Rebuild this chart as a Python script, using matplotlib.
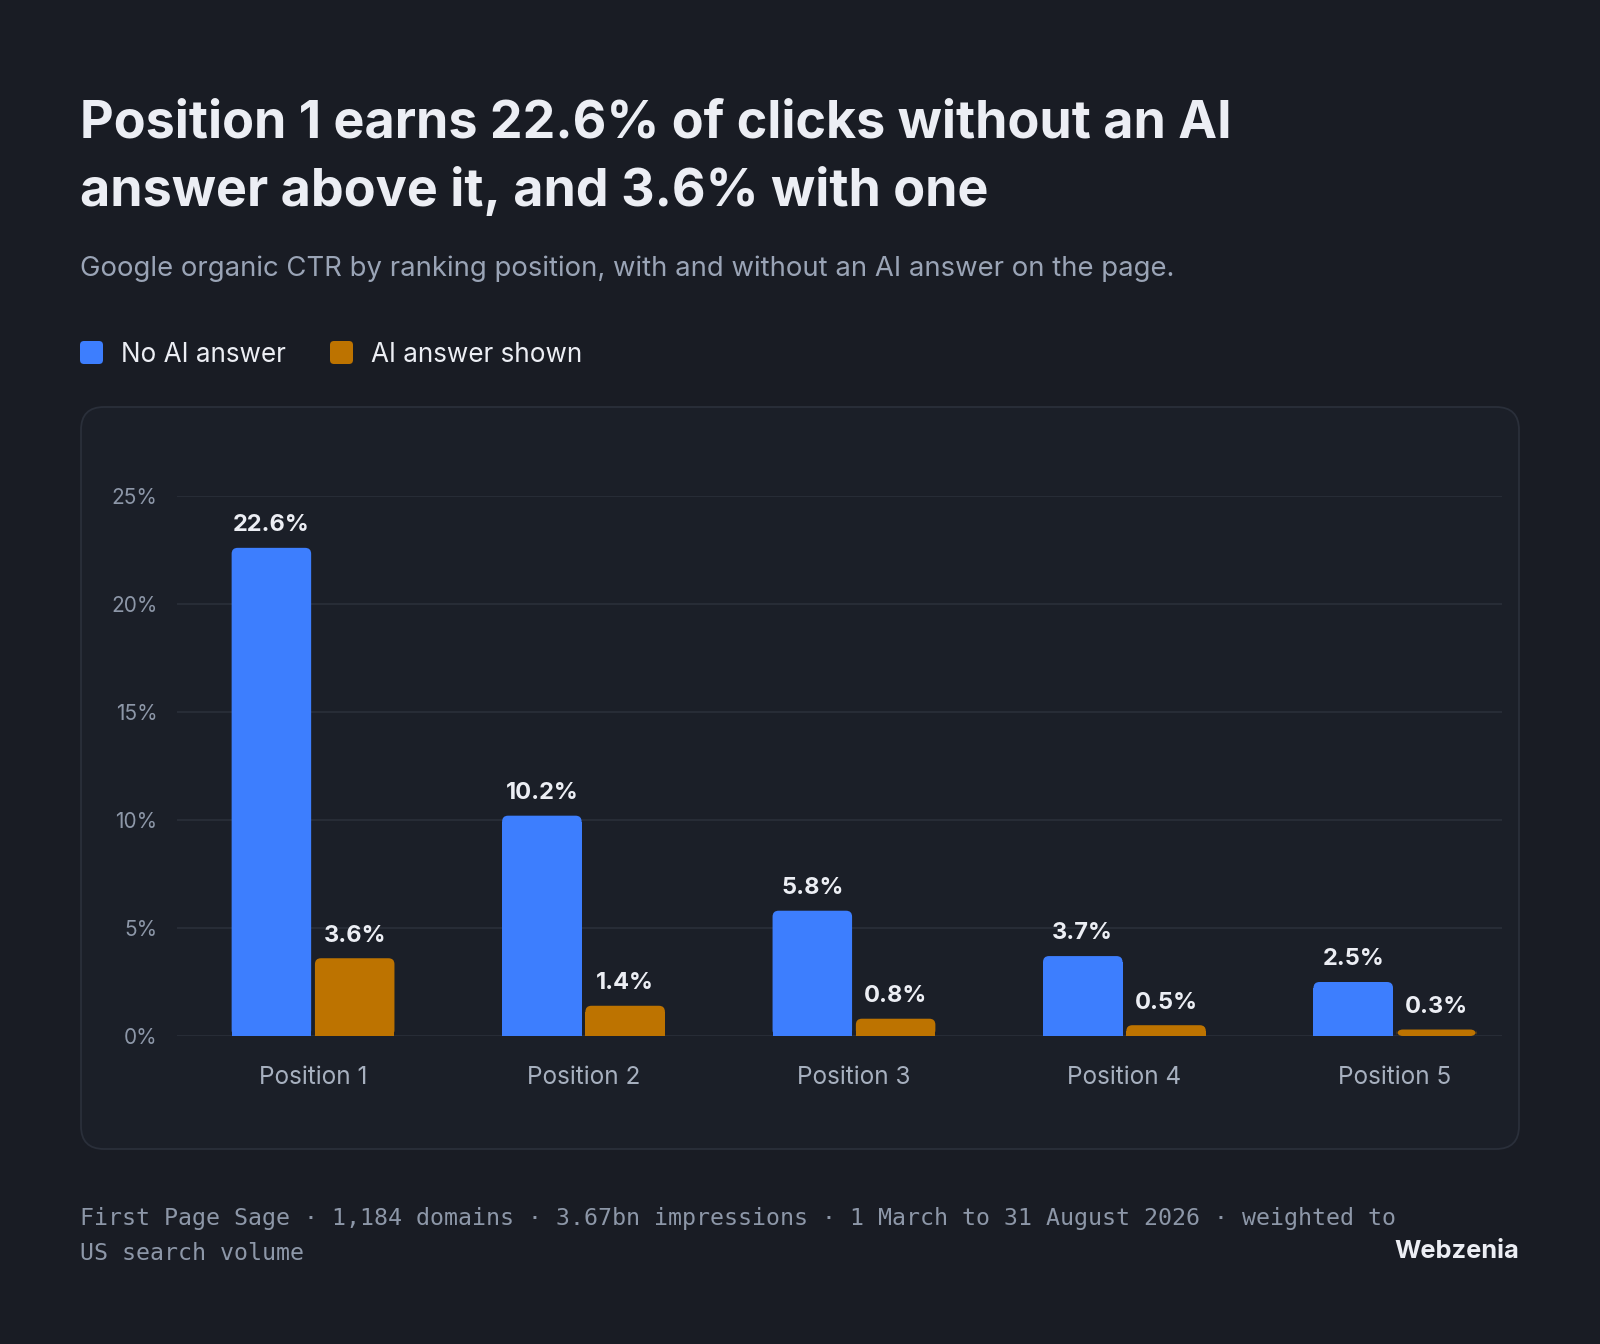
import matplotlib
matplotlib.use("Agg")
import matplotlib.pyplot as plt
from matplotlib.patches import FancyBboxPatch
from matplotlib.transforms import IdentityTransform
import numpy as np

# data
positions = ["Position 1", "Position 2", "Position 3", "Position 4", "Position 5"]
no_ai = [22.6, 10.2, 5.8, 3.7, 2.5]
ai_shown = [3.6, 1.4, 0.8, 0.5, 0.3]
series_names = ["No AI answer", "AI answer shown"]
y_ticks = [0, 5, 10, 15, 20, 25]

title_lines = ["Position 1 earns 22.6% of clicks without an AI",
               "answer above it, and 3.6% with one"]
subtitle = "Google organic CTR by ranking position, with and without an AI answer on the page."
footer_lines = ["First Page Sage \u00b7 1,184 domains \u00b7 3.67bn impressions \u00b7 1 March to 31 August 2026 \u00b7 weighted to",
                "US search volume"]
brand = "Webzenia"

# style
BG = "#191c24"
PANEL = "#1b1f28"
EDGE = "#2a2f3a"
GRID = "#2a2f3a"
BLUE = "#3d7efe"
ORANGE = "#bd7300"
WHITE = "#eceef4"
GRAY = "#9aa4b6"
TICK = "#8d97a8"

plt.rcParams["font.family"] = ["Inter", "DejaVu Sans"]

W, H = 1600, 1344
fig = plt.figure(figsize=(W / 100, H / 100), dpi=100, facecolor=BG)


def fx(px):
    return px / W


def fy(py):
    # py measured from the top
    return 1 - py / H


# header
fig.text(fx(80), fy(137), title_lines[0], color=WHITE, fontsize=37.5, fontweight="bold", va="baseline")
fig.text(fx(80), fy(206), title_lines[1], color=WHITE, fontsize=37.5, fontweight="bold", va="baseline")
fig.text(fx(80), fy(276), subtitle, color=GRAY, fontsize=19.8, va="baseline")

# legend
for sx, tx, col, name in [(80, 121, BLUE, series_names[0]), (330, 371, ORANGE, series_names[1])]:
    sq = FancyBboxPatch((sx, H - 364), 23, 23, boxstyle="round,pad=0,rounding_size=4",
                        facecolor=col, edgecolor="none", transform=IdentityTransform())
    fig.add_artist(sq)
    fig.text(fx(tx), fy(362), name, color=WHITE, fontsize=18.8, va="baseline")

# panel
panel = FancyBboxPatch((81, H - 1149), 1438, 742, boxstyle="round,pad=0,rounding_size=23",
                       facecolor=PANEL, edgecolor=EDGE, linewidth=1.3,
                       transform=IdentityTransform(), zorder=-5)
fig.add_artist(panel)

# axes
ax_left, ax_right, ax_top, ax_bottom = 177, 1502, 496, 1036
ax = fig.add_axes([fx(ax_left), fy(ax_bottom), (ax_right - ax_left) / W, (ax_bottom - ax_top) / H])
ax.set_facecolor("none")
ax.set_zorder(2)

x = np.arange(len(positions))
xlim = (-0.503, 4.396)
ax.set_xlim(*xlim)
ax.set_ylim(0, 25)

for s in ax.spines.values():
    s.set_visible(False)
ax.set_yticks(y_ticks)
ax.set_yticklabels([f"{v}%" for v in y_ticks], fontsize=15, color=TICK)
ax.set_xticks(x)
ax.set_xticklabels(positions, fontsize=17.5, color="#a7b0bf")
ax.tick_params(axis="y", length=0, pad=14)
ax.tick_params(axis="x", length=0, pad=21.5)
ax.grid(axis="y", color=GRID, linewidth=1.2)
ax.set_axisbelow(True)

bw = 0.294
off = 0.154
px_x = (ax_right - ax_left) / (xlim[1] - xlim[0])
px_y = (ax_bottom - ax_top) / 25
aspect = px_x / px_y
r = 6 / px_x

for vals, col, d in [(no_ai, BLUE, -off), (ai_shown, ORANGE, off)]:
    bars = ax.bar(x + d, vals, width=bw, color=col, zorder=3)
    for b, v in zip(bars, vals):
        bx, by, w, h = b.get_x(), b.get_y(), b.get_width(), b.get_height()
        b.set_visible(False)
        top = FancyBboxPatch((bx, by), w, h, boxstyle=f"round,pad=0,rounding_size={r}",
                             mutation_aspect=aspect, facecolor=col, edgecolor="none", zorder=3)
        ax.add_patch(top)
        ax.add_patch(plt.Rectangle((bx, by), w, max(h - r * aspect, 0), facecolor=col,
                                   edgecolor="none", zorder=3))
        ax.annotate(f"{v}%", (bx + w / 2, h), xytext=(0, 12), textcoords="offset points",
                    ha="center", va="baseline", fontsize=17, fontweight="bold", color=WHITE,
                    annotation_clip=False)

# footer
fig.text(fx(80), fy(1219), footer_lines[0], color=TICK, fontsize=16.75, family="DejaVu Sans Mono", va="center")
fig.text(fx(80), fy(1253), footer_lines[1], color=TICK, fontsize=16.75, family="DejaVu Sans Mono", va="center")
fig.text(fx(1519), fy(1258), brand, color=WHITE, fontsize=18.3, fontweight="bold", ha="right", va="baseline")

fig.savefig("out.png", dpi=100, facecolor=BG)
